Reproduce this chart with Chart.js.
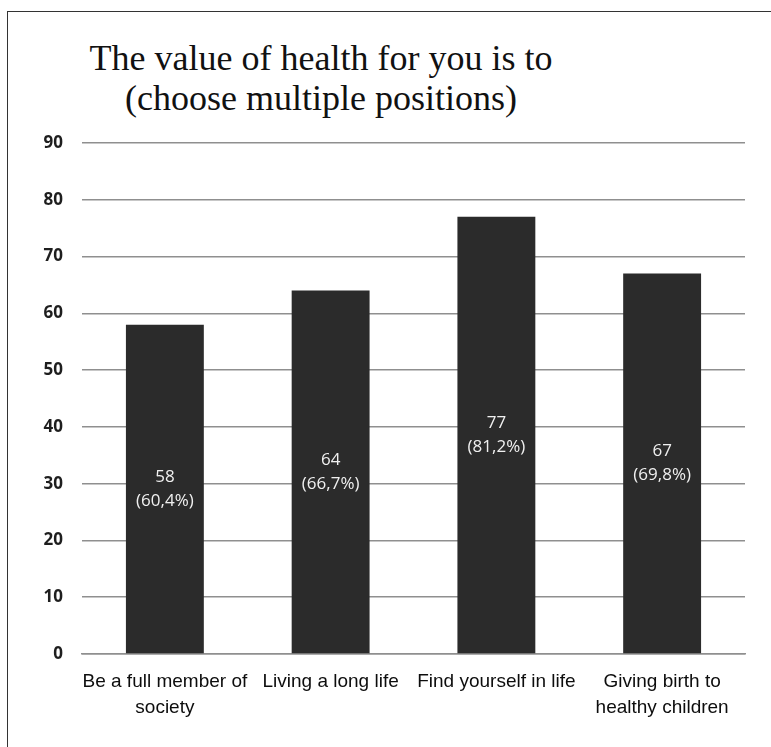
<!DOCTYPE html>
<html>
<head>
<meta charset="utf-8">
<script src="https://cdn.jsdelivr.net/npm/chart.js@4"></script>
<style>
  body { margin: 0; background: #fff; }
  #wrap { position: relative; width: 771px; height: 747px; overflow: hidden; }
  #frame { position: absolute; left: 7px; top: 11px; width: 800px; height: 800px; border: 1.5px solid #333; box-sizing: border-box; }
  #title {
    position: absolute; left: 21px; top: 38px; width: 600px;
    font-family: "Liberation Serif", "Times New Roman", serif; font-size: 36px; line-height: 40px;
    color: #111; text-align: center;
  }
  canvas { position: absolute; left: 0; top: 0; }
</style>
</head>
<body>
<div id="wrap">
  <div id="frame"></div>
  <div id="title">The value of health for you is to<br>(choose multiple positions)</div>
  <canvas id="chart" width="771" height="747"></canvas>
</div>
<script>
const categories = [
    ['Be a full member of', 'society'],
    'Living a long life',
    'Find yourself in life',
    ['Giving birth to', 'healthy children']
];
const counts = [58, 64, 77, 67];
const percents = ['(60,4%)', '(66,7%)', '(81,2%)', '(69,8%)'];
const yTicks = [0, 10, 20, 30, 40, 50, 60, 70, 80, 90];

// white value + percent text in the middle of each bar
const barLabels = {
    id: 'barLabels',
    afterDatasetsDraw(chart) {
        const ctx = chart.ctx;
        const meta = chart.getDatasetMeta(0);
        ctx.save();
        ctx.fillStyle = '#f0f0f0';
        ctx.font = '17px "Open Sans", "DejaVu Sans", sans-serif';
        ctx.textAlign = 'center';
        ctx.textBaseline = 'middle';
        meta.data.forEach((bar, i) => {
            const mid = (bar.y + bar.base) / 2;
            ctx.fillText(String(counts[i]), bar.x, mid - 12);
            ctx.fillText(percents[i], bar.x, mid + 12);
        });
        ctx.restore();
    }
};

new Chart(document.getElementById('chart').getContext('2d'), {
    type: 'bar',
    data: {
        labels: categories,
        datasets: [{
            data: counts,
            backgroundColor: '#2b2b2b',
            borderWidth: 0,
            barPercentage: 0.94,
            categoryPercentage: 0.5
        }]
    },
    options: {
        responsive: false,
        animation: false,
        layout: { padding: { top: 143, right: 26, bottom: 0, left: 0 } },
        plugins: {
            legend: { display: false },
            tooltip: { enabled: false }
        },
        scales: {
            y: {
                min: 0,
                max: 90,
                afterBuildTicks(scale) {
                    scale.ticks = yTicks.map(v => ({ value: v }));
                },
                afterFit(scale) { scale.width = 82; },
                border: { display: false },
                grid: { color: '#8f8f8f', lineWidth: 1.5, drawTicks: false },
                ticks: {
                    padding: 19,
                    color: '#1e1e1e',
                    font: { family: '"Open Sans", "Liberation Sans", sans-serif', size: 17, weight: 'bold' }
                }
            },
            x: {
                afterFit(scale) { scale.height = 93; },
                border: { color: '#8f8f8f', width: 1.5 },
                grid: { display: false, drawTicks: false },
                ticks: {
                    padding: 15,
                    maxRotation: 0,
                    autoSkip: false,
                    color: '#0d0d0d',
                    font: { family: '"Liberation Sans", sans-serif', size: 19, lineHeight: 1.37 }
                }
            }
        }
    },
    plugins: [barLabels]
});
</script>
</body>
</html>
